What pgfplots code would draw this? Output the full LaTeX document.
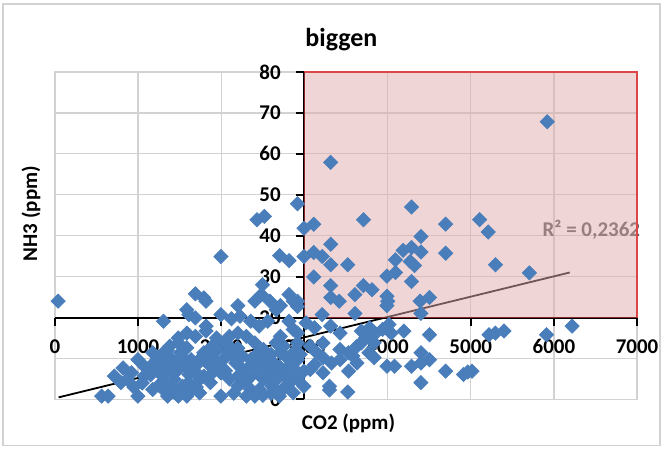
\documentclass[border=0pt]{standalone}
\usepackage{fontspec}
\setmainfont{Carlito}
\usepackage{pgfplots}
\pgfplotsset{compat=1.18}
\definecolor{ptblue}{RGB}{74,126,187}
\definecolor{boxfill}{RGB}{224,172,172}
\definecolor{boxedge}{RGB}{220,70,70}
\definecolor{gridgray}{RGB}{210,210,210}
\definecolor{rtext}{RGB}{80,80,80}
\tikzset{lbl/.style={font=\bfseries\fontsize{10.5}{12}\selectfont}}
\begin{document}
\begin{tikzpicture}
\begin{axis}[
    scale only axis,
    width=291.5pt, height=164pt,
    xmin=0, xmax=7000, ymin=0, ymax=80,
    xtick={0,1000,...,7000}, ytick={0,10,...,80},
    xticklabels={}, yticklabels={},
    major tick length=0pt,
    grid=major,
    major grid style={gridgray, line width=0.7pt},
    axis line style={gridgray, line width=0.7pt},
    clip=false,
]
% page size and outer frame
\path (axis cs:-660,97.56) rectangle (axis cs:7323,-12.2);
\draw[gray!35, line width=0.6pt] (axis cs:-624,96.6) rectangle (axis cs:7275,-11.2);

\addplot[only marks, mark=square*, mark size=2.5pt,
    mark options={rotate=45, fill=ptblue, draw=ptblue}] coordinates {
(40,24) (5920,67.8) (3316,57.9) (2917,47.8) (2430,43.9) (2518,44.7)
(4289,47) (3710,43.9) (4698,42.8) (5107,43.9) (5210,40.9) (3112,42.8)
(2994,41.8) (4401,39.8) (3316,37.9) (1996,34.9) (2702,35.1) (2815,33.9)
(2994,34.9) (3112,35.9) (3214,34.9) (4698,35.7) (4186,36.4) (4289,37.1)
(4401,36) (4094,34.1) (4273,33.7) (4324,32.7) (3316,32.9) (3521,32.9)
(5297,32.9) (3992,30.1) (3112,29.9) (4289,28.8) (3316,27.8) (3710,27.8)
(3813,26.8) (5706,30.9) (3608,25.6) (3316,24.9) (3419,24) (3992,25.2)
(4002,24) (3992,22.9) (4391,24) (4504,24.9) (4401,21) (3608,21)
(3214,20.7) (4094,31) (2497,28) (2482,25.6) (2584,24) (2405,24)
(1689,25.8) (1791,24.8) (1817,24) (2815,25.6) (2866,24) (2712,22.9)
(2661,21.9) (2201,22.9) (1586,21.9) (1612,20.7) (2917,24) (2917,22.7)
(1305,19.1) (1689,19.9) (1996,20.7) (2124,19.7) (2226,20.3) (2354,19.1)
(1817,17.9) (1817,16.7) (2457,17.9) (2559,19.1) (2815,19.1) (2866,17.1)
(3020,18.7) (3122,17.5) (3316,17.9) (3429,16.2) (3685,16.7) (3787,17.5)
(3838,15.8) (3941,17.1) (4017,18.3) (4043,16.2) (4196,16.7) (4504,15.8)
(5220,15.8) (5297,16.2) (5399,16.7) (5911,15.8) (6218,17.9) (3736,15)
(3685,13.8) (3838,13.8) (3429,12.2) (3531,11.4) (3633,13) (3224,10.2)
(3326,8.9) (3122,8.5) (3777,11.4) (3838,10.2) (3992,8.1) (4084,8.1)
(4289,8.1) (4401,8.9) (4401,4.1) (4401,11.4) (4504,9.7) (4698,6.9)
(4913,6.1) (4964,6.7) (5015,6.9) (3531,6.9) (3633,8.9) (3301,3.2)
(3301,2.3) (3521,1.8) (3070,13) (3147,11.4) (3224,13.8) (3429,9.7)
(3582,10.6) (3070,7.3) (3224,6.5)
(563,0.8) (640,0.8) (998,0.8) (716,5.7) (819,7.7) (793,4.1)
(998,9.7) (870,4.9) (1075,5.7) (1151,8.1) (1228,9.7) (1305,11.4)
(1356,8.9) (1254,6.5) (1331,4.1) (1305,2.4) (1356,0.8) (1433,2)
(1484,0.8) (1586,0.8) (1535,3.2) (1433,4.9) (1484,7.3) (1407,9.7)
(1510,11.4) (1484,13.8) (1586,12.6) (1638,9.7) (1689,8.1) (1612,6.1)
(1740,4.9) (1868,4.1) (1791,11.4) (1893,10.2) (1944,8.1) (2021,9.7)
(1996,6.5) (1893,13) (2047,13.8) (1996,0.8) (2098,11.4) (2175,8.9)
(2201,5.7) (2303,0.8) (2405,0.8) (2303,7.3) (2354,9.7) (2405,8.1)
(2457,6.1) (2508,4.9) (2559,7.3) (2610,9.3) (2661,6.5) (2738,2.4)
(2866,1.6) (2917,4.9) (2815,8.1) (2917,9.7) (2866,11.4) (2712,11.4)
(2661,13.8) (2508,12.2) (2405,13.8) (2303,15.4) (2201,16.2) (2098,15.4)
(1944,15) (1689,15.4) (1484,15) (1586,16.2) (2917,13.8) (2917,16.2)
(2994,6.9) (2994,3.2) (2610,3.2) (2457,2.4) (2201,3.2) (1740,1.6)
(1638,2.4) (1177,2.4) (1075,8.1) (921,6.5) (1177,11.4) (1382,13)
(2098,13) (2712,15.4) (1893,6.5) (1791,5.7) (2533,9.7) (2252,10.6)
(1535,8.5)
(1250,3.5) (1400,3.5) (1450,1.5) (1550,2) (1600,4) (1700,3)
(1300,6) (1380,7) (1450,9) (1550,10) (1600,7.5) (1700,6.5)
(1750,10) (1850,8.5) (1900,11.5) (1950,12) (2050,7) (2100,5)
(2150,10.5) (2200,12.5) (2250,7.5) (2300,4.5) (2350,5.5) (2400,10.5)
(2450,11) (2500,9) (2550,5.5) (2600,11) (2650,4.5) (2700,8)
(2750,6) (2800,10) (2850,5) (2900,7) (2950,11) (2750,13)
(2600,1.5) (2800,3.5) (2350,2.5) (1250,8) (1350,12) (1150,6)
(950,3) (1050,4) (2150,1.5) (2500,1) (2700,0.8)
};

% linear trendline
\addplot[black, line width=0.9pt] coordinates {(45,0.5) (6190,31)};

\node[anchor=west, rtext, lbl] at (axis cs:5780,41.5) {R² = 0,2362};

% axis lines crossing at (3000,20)
\draw[black, line width=1pt] (axis cs:0,20) -- (axis cs:7000,20);
\draw[black, line width=1pt] (axis cs:3000,0) -- (axis cs:3000,80);
\pgfplotsinvokeforeach{0,1000,2000,3000,4000,5000,6000,7000}{
  \draw[black, line width=1pt] (axis cs:#1,20) -- (axis cs:#1,18);
}
\pgfplotsinvokeforeach{0,10,20,30,40,50,60,70,80}{
  \draw[black, line width=1pt] (axis cs:3000,#1) -- (axis cs:2900,#1);
}

% highlighted region
\fill[boxfill, fill opacity=0.5] (axis cs:3000,20) rectangle (axis cs:7000,80);
\draw[boxedge, line width=0.9pt] (axis cs:3000,20) rectangle (axis cs:7000,80);
\draw[boxedge!60!black, line width=0.9pt] (axis cs:7000,20) -- (axis cs:3000,20) -- (axis cs:3000,80);

% tick labels
\node[lbl] at (axis cs:0,12.9) {0};
\node[lbl] at (axis cs:1000,12.9) {1000};
\node[lbl] at (axis cs:2000,12.9) {2000};
\node[lbl] at (axis cs:3000,12.9) {3000};
\node[lbl] at (axis cs:4000,12.9) {4000};
\node[lbl] at (axis cs:5000,12.9) {5000};
\node[lbl] at (axis cs:6000,12.9) {6000};
\node[lbl] at (axis cs:7000,12.9) {7000};
\node[lbl, anchor=east] at (axis cs:2800,0) {0};
\node[lbl, anchor=east] at (axis cs:2800,10) {10};
\node[lbl, anchor=east] at (axis cs:2800,20) {20};
\node[lbl, anchor=east] at (axis cs:2800,30) {30};
\node[lbl, anchor=east] at (axis cs:2800,40) {40};
\node[lbl, anchor=east] at (axis cs:2800,50) {50};
\node[lbl, anchor=east] at (axis cs:2800,60) {60};
\node[lbl, anchor=east] at (axis cs:2800,70) {70};
\node[lbl, anchor=east] at (axis cs:2800,80) {80};

% titles
\node[font=\bfseries\fontsize{13}{15}\selectfont] at (axis cs:3445,88) {biggen};
\node[lbl] at (axis cs:3530,-5.8) {CO2 (ppm)};
\node[lbl, rotate=90] at (axis cs:-288,45.4) {NH3 (ppm)};
\end{axis}
\end{tikzpicture}
\end{document}
